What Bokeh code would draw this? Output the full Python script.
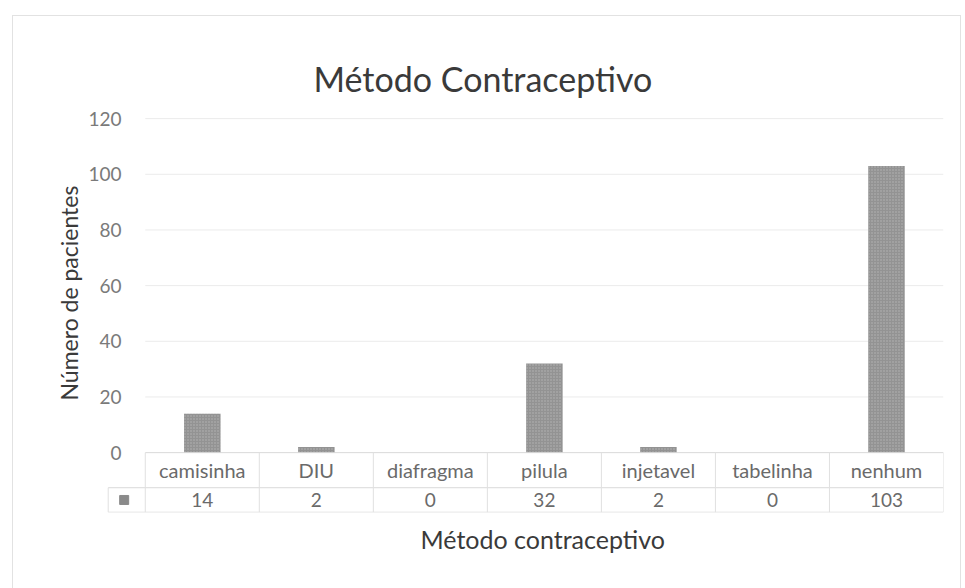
import numpy as np
from bokeh.plotting import figure
from bokeh.models import Range1d, FixedTicker, Title, InlineStyleSheet
from bokeh.core.properties import value
from bokeh.embed import file_html
from bokeh.resources import INLINE

# Contraceptive method survey: number of patients per method
categories = ["camisinha", "DIU", "diafragma", "pilula", "injetavel", "tabelinha", "nenhum"]
patients = [14, 2, 0, 32, 2, 0, 103]
y_ticks = [0, 20, 40, 60, 80, 100, 120]

FONT = "Lato"
n = len(categories)
centers = np.arange(n) + 0.5

# y range extends below zero to hold the data table under the bars;
# x range starts left of the first column to fit the legend-key cell
row_sep = -12.6
table_bottom = -21.4
key_left = -0.325
key_x = -0.185

p = figure(width=965, height=588, output_backend="svg", toolbar_location=None,
           x_range=Range1d(-0.34, n), y_range=Range1d(-21.5, 122.2),
           min_border_left=106, min_border_right=22, min_border_top=112,
           min_border_bottom=76)
p.outline_line_color = None
p.background_fill_color = "white"
p.border_fill_color = "white"
p.xgrid.visible = False
p.ygrid.visible = False
p.xaxis.visible = False

# light frame around the whole chart
p.stylesheets = [InlineStyleSheet(css="""
:host::after { content: ""; position: absolute; left: 12px; top: 15px; width: 947px;
  height: 580px; border: 1px solid #e2e2e2; pointer-events: none; }
""")]

p.add_layout(Title(text="Método Contraceptivo", align="left", offset=207, standoff=28,
                   text_font=FONT, text_font_size="34px", text_font_style="normal",
                   text_color="#3a3a3a"), "above")
p.add_layout(Title(text="Método contraceptivo", align="left", offset=314, standoff=19,
                   text_font=FONT, text_font_size="25px", text_font_style="normal",
                   text_color="#3a3a3a"), "below")
p.add_layout(Title(text="Número de pacientes", align="left", offset=112, standoff=6,
                   text_font=FONT, text_font_size="23px", text_font_style="normal",
                   text_color="#3a3a3a"), "left")

# y axis: labels only
p.yaxis.ticker = FixedTicker(ticks=y_ticks)
p.yaxis.axis_line_color = None
p.yaxis.major_tick_line_color = None
p.yaxis.minor_tick_line_color = None
p.yaxis.major_label_standoff = -21
p.yaxis.major_label_text_font = FONT
p.yaxis.major_label_text_font_size = "19px"
p.yaxis.major_label_text_color = "#7a7a7a"

# horizontal gridlines
grid_vals = [t for t in y_ticks if t > 0]
p.segment(x0=[0] * len(grid_vals), x1=[n] * len(grid_vals), y0=grid_vals, y1=grid_vals,
          line_color="#ebebeb", line_width=1)

# bars
p.vbar(x=centers, top=patients, bottom=0, width=0.32,
       fill_color="#939393", line_color=None,
       hatch_pattern="dot", hatch_color="#b5b5b5", hatch_scale=3, hatch_weight=0.6)

# data table grid
p.segment(x0=[0, key_left, key_left], x1=[n, n, n], y0=[0, row_sep, table_bottom],
          y1=[0, row_sep, table_bottom], line_color="#d9d9d9", line_width=1)
bounds = np.arange(n + 1)
p.segment(x0=bounds, x1=bounds, y0=[table_bottom] * (n + 1), y1=[0] * (n + 1),
          line_color="#e0e0e0", line_width=1)
p.segment(x0=[key_left], x1=[key_left], y0=[table_bottom], y1=[row_sep],
          line_color="#e0e0e0", line_width=1)

# table text
p.text(x=centers, y=[row_sep / 2] * n, text=categories, text_align="center",
       text_baseline="middle", text_font=value(FONT), text_font_size="20px",
       text_color="#6a6a6a")
p.text(x=centers, y=[(row_sep + table_bottom) / 2] * n, text=[str(v) for v in patients],
       text_align="center", text_baseline="middle", text_font=value(FONT),
       text_font_size="19px", text_color="#6a6a6a")

# legend key of the table row
p.scatter(x=[key_x], y=[(row_sep + table_bottom) / 2], marker="square", size=9,
          fill_color="#8a8a8a", line_color="#8a8a8a")

open("out.html", "w").write(file_html(p, INLINE))
